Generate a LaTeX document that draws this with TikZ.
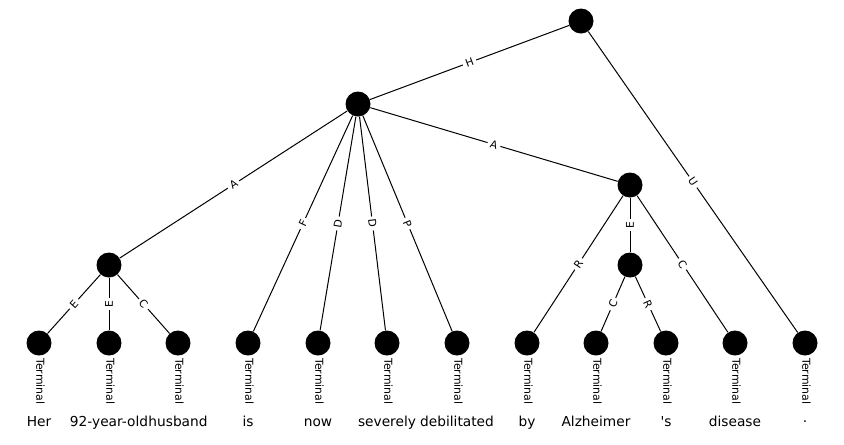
\documentclass[tikz,border=0pt]{standalone}
\usepackage{fontspec}
\setmainfont{DejaVu Sans}
% plain family without TeX ligature mapping, so ' stays a straight quote
\newfontfamily\tokfont{DejaVu Sans}
\begin{document}
\begin{tikzpicture}[x=0.75pt,y=-0.75pt,
  vertex/.style={circle,fill=black,draw=none,minimum size=18.75pt,inner sep=0pt},
  link/.style={line width=0.75pt,black},
  rel/.style={sloped,fill=white,inner sep=2.2pt,font=\fontsize{8}{9}\selectfont},
  term/.style={rotate=-90,anchor=west,inner sep=0pt,font=\fontsize{8.2}{9}\selectfont},
  word/.style={anchor=base,inner sep=0pt,font=\tokfont\fontsize{10.3}{12}\selectfont}]
\useasboundingbox (0,0) rectangle (844,444);

% internal units
\node[vertex] (r) at (581,21) {};
\node[vertex] (p) at (358,104) {};
\node[vertex] (q) at (630,185) {};
\node[vertex] (s) at (109,265) {};
\node[vertex] (u) at (630,265) {};

% terminals, their tags and tokens
\foreach \i/\x/\w/\b in {1/39/Her/426, 2/109/92-year-old/426, 3/178/husband/426,
  4/248/is/426, 5/318/now/426, 6/387/severely/426, 7/457/debilitated/426,
  8/527/by/426, 9/596/Alzheimer/426, 10/666/'s/426, 11/735/disease/426,
  12/805/./422} {
  \node[vertex] (l\i) at (\x,343) {};
  \node[term] (t\i) at (\x+1.5,358) {Terminal};
  \node[word] (w\i) at (\x,\b) {\w};
}

% labelled edges
\draw[link] (p) -- node[rel] {H} (r);
\draw[link] (l12) -- node[rel] {U} (r);
\draw[link] (s) -- node[rel] {A} (p);
\draw[link] (l4) -- node[rel] {F} (p);
\draw[link] (l5) -- node[rel] {D} (p);
\draw[link] (l6) -- node[rel] {D} (p);
\draw[link] (l7) -- node[rel] {P} (p);
\draw[link] (q) -- node[rel] {A} (p);
\draw[link] (l1) -- node[rel] {E} (s);
\draw[link] (l2) -- node[rel] {E} (s);
\draw[link] (l3) -- node[rel] {C} (s);
\draw[link] (l8) -- node[rel] {R} (q);
\draw[link] (u) -- node[rel] {E} (q);
\draw[link] (l11) -- node[rel] {C} (q);
\draw[link] (l9) -- node[rel] {C} (u);
\draw[link] (l10) -- node[rel] {R} (u);
\end{tikzpicture}
\end{document}
